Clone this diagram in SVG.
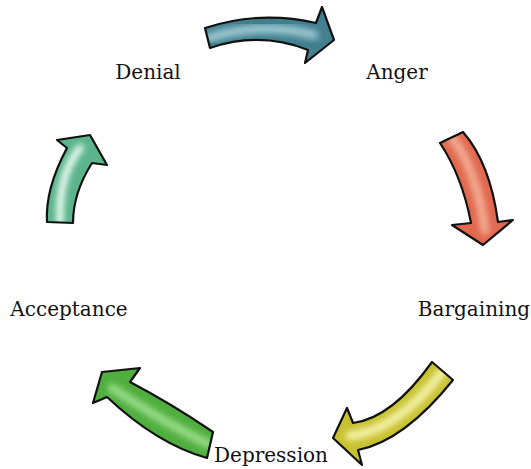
<svg xmlns="http://www.w3.org/2000/svg" width="531" height="469" viewBox="0 0 531 469">
<style>
.lbl{font-family:"DejaVu Serif","Liberation Serif",serif;font-size:20px;fill:#111;text-anchor:middle}
.arrow{stroke:#111;stroke-width:2.2;stroke-linejoin:round}
.hl{fill:none;stroke-linecap:round;filter:url(#blur)}
</style>
<defs>
<filter id="blur" x="-50%" y="-50%" width="200%" height="200%"><feGaussianBlur stdDeviation="3"/></filter>
<path id="p1" d="M205,28 Q260,10 316,23 L322,7 L334,40 L305,63 L308,50 Q260,31 210,48 Z"/>
<path id="p2" d="M440,143 L463,132 Q490,163 498,222 L513,220 L483,245 L452,225 L471,223 Q462,176 440,143 Z"/>
<path id="p3" d="M432,362 L453,380 Q404,441 358,450 L362,465 L333,438 L347,408 L353,423 Q392,418 432,362 Z"/>
<path id="p4" d="M213,432 L207,458 Q157,444 107,397 L93,403 L102,372 L140,368 L130,382 Q172,404 213,432 Z"/>
<path id="p5" d="M47,222 L73,223 Q73,193 92,163 L107,165 L90,135 L57,140 L67,148 Q45,189 47,222 Z"/>
<clipPath id="c1"><use href="#p1"/></clipPath>
<clipPath id="c2"><use href="#p2"/></clipPath>
<clipPath id="c3"><use href="#p3"/></clipPath>
<clipPath id="c4"><use href="#p4"/></clipPath>
<clipPath id="c5"><use href="#p5"/></clipPath>
</defs>
<g id="connectors">
<g id="arrow-denial-anger">
<use href="#p1" fill="#42808f"/>
<g clip-path="url(#c1)"><path class="hl" d="M208,38 Q262,21 314,35" stroke="#9cc8d2" stroke-width="9"/></g>
<use href="#p1" class="arrow" fill="none"/>
</g>
<g id="arrow-anger-bargaining">
<use href="#p2" fill="#e0684e"/>
<g clip-path="url(#c2)"><path class="hl" d="M452,138 Q476,168 485,230" stroke="#f4ac94" stroke-width="9"/></g>
<use href="#p2" class="arrow" fill="none"/>
</g>
<g id="arrow-bargaining-depression">
<use href="#p3" fill="#c8c232"/>
<g clip-path="url(#c3)"><path class="hl" d="M443,371 Q398,430 350,436" stroke="#f4f2a8" stroke-width="9"/></g>
<use href="#p3" class="arrow" fill="none"/>
</g>
<g id="arrow-depression-acceptance">
<use href="#p4" fill="#4fae3e"/>
<g clip-path="url(#c4)"><path class="hl" d="M112,388 Q165,423 210,445" stroke="#98dc88" stroke-width="9"/></g>
<use href="#p4" class="arrow" fill="none"/>
</g>
<g id="arrow-acceptance-denial">
<use href="#p5" fill="#5cb48c"/>
<g clip-path="url(#c5)"><path class="hl" d="M60,222 Q58,175 80,148" stroke="#f2fff8" stroke-width="7"/></g>
<use href="#p5" class="arrow" fill="none"/>
</g>
</g>
<g id="node-denial"><text class="lbl" x="148" y="79">Denial</text></g>
<g id="node-anger"><text class="lbl" x="397" y="79">Anger</text></g>
<g id="node-bargaining"><text class="lbl" x="474" y="316">Bargaining</text></g>
<g id="node-depression"><text class="lbl" x="271" y="462">Depression</text></g>
<g id="node-acceptance"><text class="lbl" x="69" y="316">Acceptance</text></g>
</svg>
